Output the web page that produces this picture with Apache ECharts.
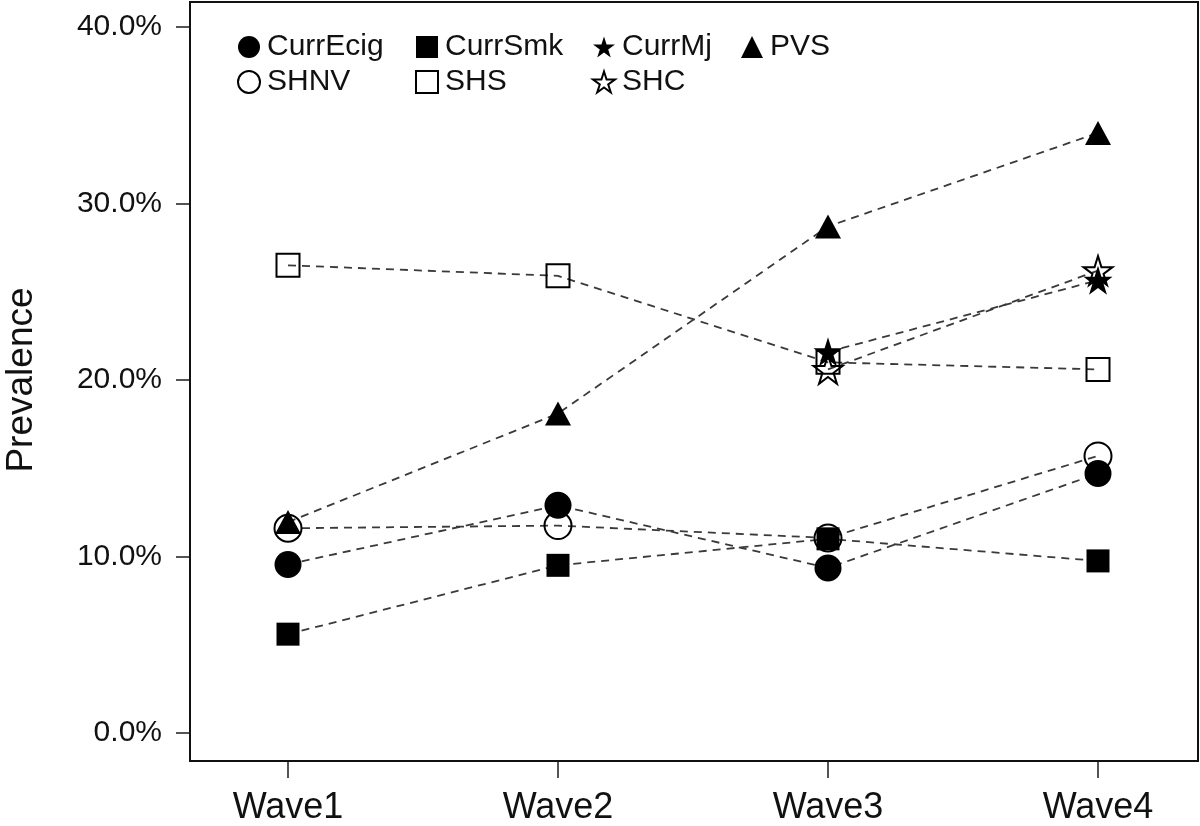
<!DOCTYPE html>
<html>
<head>
<meta charset="utf-8">
<script src="https://cdn.jsdelivr.net/npm/echarts@6/dist/echarts.min.js"></script>
<style>
html,body{margin:0;padding:0;background:#fff;}
#c{width:1200px;height:826px;}
</style>
</head>
<body>
<div id="c"></div>
<script>
var waves = ['Wave1', 'Wave2', 'Wave3', 'Wave4'];
var yTicks = [0, 10, 20, 30, 40];
var CurrEcig = [9.55, 12.9, 9.35, 14.7];
var CurrSmk = [5.6, 9.5, 11.0, 9.75];
var CurrMj = [null, null, 21.6, 25.65];
var PVS = [11.95, 18.1, 28.7, 34.0];
var SHNV = [11.6, 11.75, 11.05, 15.7];
var SHS = [26.5, 25.9, 21.0, 20.6];
var SHC = [null, null, 20.6, 26.2];

var FONT = '"Liberation Sans", Arial, sans-serif';
var STAR = 'path://M50,0 L61.2,34.5 L97.6,34.5 L68.2,55.9 L79.4,90.5 L50,69.1 L20.6,90.5 L31.8,55.9 L2.4,34.5 L38.8,34.5 Z';

function mk(name, data, symbol, size, filled) {
  return {
    name: name, type: 'line', data: data,
    xAxisIndex: 0, yAxisIndex: 0,
    symbol: symbol, symbolSize: size, showSymbol: true,
    connectNulls: false,
    lineStyle: {color: '#3a3a3a', width: 1.8, type: [8, 6]},
    itemStyle: filled
      ? {color: '#000', borderColor: '#000', borderWidth: 0}
      : {color: 'rgba(255,255,255,0)', borderColor: '#000', borderWidth: 2},
    emphasis: {disabled: true},
    animation: false, z: 3
  };
}

var series = [
  mk('SHNV', SHNV, 'circle', 27, false),
  mk('SHS', SHS, 'rect', 23, false),
  mk('SHC', SHC, STAR, 29, false),
  mk('CurrEcig', CurrEcig, 'circle', 27, true),
  mk('CurrSmk', CurrSmk, 'rect', 23, true),
  mk('CurrMj', CurrMj, STAR, 29, true),
  mk('PVS', PVS, 'triangle', [26, 24], true)
];

function legendCol(left, items) {
  return {
    orient: 'vertical', left: left, top: 27, itemGap: 5,
    itemWidth: 22, itemHeight: 22,
    selectedMode: false,
    textStyle: {fontFamily: FONT, fontSize: 30, lineHeight: 30, color: '#111', padding: [0, 0, 0, 2]},
    data: items
  };
}

var chart = echarts.init(document.getElementById('c'));
chart.setOption({
  backgroundColor: '#fff',
  animation: false,
  grid: [
    {left: 288, right: 102, top: 27, bottom: 93, containLabel: false, outerBoundsMode: 'none'},
    {left: 288, right: 102, top: 760, bottom: 65, containLabel: false, outerBoundsMode: 'none'}
  ],
  legend: [
    legendCol(232, [{name: 'CurrEcig', icon: 'circle'}, {name: 'SHNV', icon: 'circle'}]),
    legendCol(410, [{name: 'CurrSmk', icon: 'rect'}, {name: 'SHS', icon: 'rect'}]),
    legendCol(587, [{name: 'CurrMj', icon: STAR}, {name: 'SHC', icon: STAR}]),
    legendCol(736, [{name: 'PVS', icon: 'triangle'}])
  ],
  xAxis: [{
    gridIndex: 0, type: 'category', data: waves, boundaryGap: false,
    axisLine: {show: false}, axisTick: {show: false}, axisLabel: {show: false},
    splitLine: {show: false}
  }, {
    gridIndex: 1, type: 'category', data: waves, boundaryGap: false, position: 'bottom',
    axisLine: {show: false},
    axisTick: {show: true, inside: false, length: 17, lineStyle: {color: '#555', width: 2}},
    axisLabel: {fontFamily: FONT, fontSize: 36, color: '#111', margin: 29},
    splitLine: {show: false}
  }],
  yAxis: [{
    gridIndex: 0, type: 'value', min: 0, max: 40, interval: 10, offset: 98,
    name: 'Prevalence', nameLocation: 'middle', nameGap: 150,
    nameTextStyle: {fontFamily: FONT, fontSize: 37, color: '#111'},
    axisLine: {show: false},
    axisTick: {show: true, length: 14, lineStyle: {color: '#555', width: 2}},
    axisLabel: {fontFamily: FONT, fontSize: 30, color: '#111', margin: 28,
      formatter: function (v) { return yTicks.indexOf(v) >= 0 ? v.toFixed(1) + '%' : ''; }},
    splitLine: {show: false}
  }, {
    gridIndex: 1, type: 'value', min: 0, max: 1, show: false,
    axisLine: {show: false}, axisTick: {show: false}, axisLabel: {show: false}, splitLine: {show: false}
  }],
  graphic: [{
    type: 'rect', z: 10, silent: true,
    shape: {x: 190, y: 2, width: 1008, height: 759},
    style: {fill: 'none', stroke: '#111', lineWidth: 2}
  }],
  series: series
});
</script>
</body>
</html>
